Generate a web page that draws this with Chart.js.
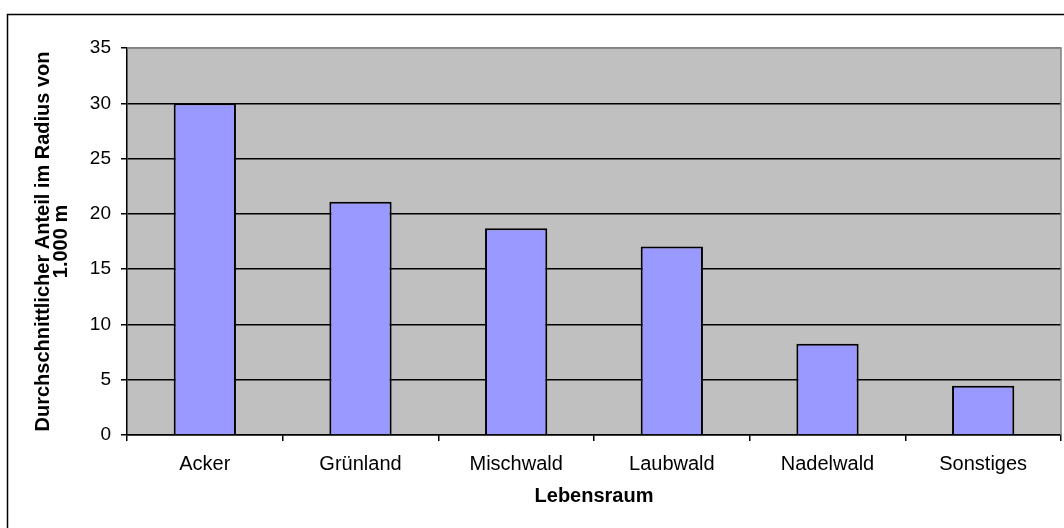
<!DOCTYPE html>
<html>
<head>
<meta charset="utf-8">
<script src="https://cdn.jsdelivr.net/npm/chart.js@4"></script>
<style>
  body { margin: 0; background: #fff; }
  canvas { display: block; }
</style>
</head>
<body>
<canvas id="habitatChart" width="1064" height="528"></canvas>
<script>
const categories = ['Acker', 'Grünland', 'Mischwald', 'Laubwald', 'Nadelwald', 'Sonstiges'];
const shareValues = [30, 21.1, 18.7, 17.05, 8.25, 4.45];
const yTitleLines = ['Durchschnittlicher Anteil im Radius von', '1.000 m'];
const xTitle = 'Lebensraum';

// grey plot area, grey top/right edge, outer frame
const plotBg = {
  id: 'plotBg',
  beforeDraw(chart) {
    const { ctx, chartArea: a } = chart;
    ctx.save();
    ctx.fillStyle = '#C0C0C0';
    ctx.fillRect(a.left, a.top, a.right - a.left, a.bottom - a.top);
    ctx.restore();
  },
  beforeDatasetsDraw(chart) {
    const { ctx, chartArea: a } = chart;
    ctx.save();
    ctx.strokeStyle = '#808080';
    ctx.lineWidth = 1.5;
    ctx.beginPath();
    ctx.moveTo(a.left, a.top);
    ctx.lineTo(a.right, a.top);
    ctx.lineTo(a.right, a.bottom);
    ctx.stroke();
    ctx.restore();
  },
  afterDraw(chart) {
    const ctx = chart.ctx;
    ctx.save();
    ctx.strokeStyle = '#000';
    ctx.lineWidth = 1.5;
    ctx.strokeRect(7.5, 14.5, 2000, 2000);
    ctx.restore();
  }
};

new Chart(document.getElementById('habitatChart'), {
  type: 'bar',
  data: {
    labels: categories,
    datasets: [{
      data: shareValues,
      backgroundColor: '#9999FF',
      borderColor: '#000',
      borderWidth: 2,
      categoryPercentage: 1,
      barPercentage: 0.4
    }]
  },
  options: {
    responsive: false,
    animation: false,
    layout: { padding: { top: 48, right: 3, left: 0, bottom: 0 } },
    plugins: { legend: { display: false }, tooltip: { enabled: false } },
    scales: {
      x: {
        afterFit(s) { s.height = 93; },
        grid: { offset: true, drawOnChartArea: false, drawTicks: true, tickLength: 6, color: '#000', lineWidth: 1.5 },
        border: { color: '#000', width: 1.5 },
        ticks: { color: '#000', padding: 11, font: { family: 'Liberation Sans, Arial', size: 20 } },
        title: {
          display: true, text: xTitle, color: '#000',
          font: { family: 'Liberation Sans, Arial', size: 20, weight: 'bold', lineHeight: '22px' },
          padding: { top: 0, bottom: 21 }
        }
      },
      y: {
        min: 0, max: 35,
        afterFit(s) { s.width = 127; },
        grid: {
          color: c => c.tick && c.tick.value === 35 ? '#808080' : '#000',
          lineWidth: 1.5, tickLength: 6, tickColor: '#000'
        },
        border: { color: '#000', width: 1.5 },
        ticks: { stepSize: 5, color: '#000', padding: 10, font: { family: 'Liberation Sans, Arial', size: 19 } },
        title: {
          display: true, text: yTitleLines, color: '#000',
          font: { family: 'Liberation Sans, Arial', size: 20, weight: 'bold', lineHeight: '18px' },
          padding: { top: 34, bottom: 0 }
        }
      }
    }
  },
  plugins: [plotBg]
});
</script>
</body>
</html>
